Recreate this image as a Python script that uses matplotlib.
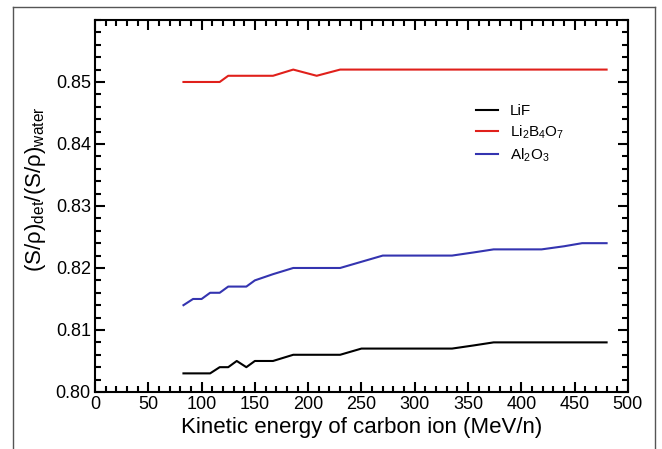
import numpy as np
import matplotlib
matplotlib.use("Agg")
import matplotlib.pyplot as plt
from matplotlib.lines import Line2D
from matplotlib.ticker import MultipleLocator

plt.rcParams.update({
    'font.family': 'Liberation Sans',
    'mathtext.fontset': 'custom',
    'mathtext.rm': 'Liberation Sans',
    'mathtext.it': 'Liberation Sans:italic',
})

# kinetic energy (MeV/n)
energy = [83, 92, 100, 108, 117, 125, 133, 142, 150, 167, 186, 208, 230,
          250, 270, 290, 310, 335, 355, 374, 400, 419, 440, 457, 480]
lif = [0.803, 0.803, 0.803, 0.803, 0.804, 0.804, 0.805, 0.804, 0.805, 0.805,
       0.806, 0.806, 0.806, 0.807, 0.807, 0.807, 0.807, 0.807, 0.8075, 0.808,
       0.808, 0.808, 0.808, 0.808, 0.808]
li2b4o7 = [0.850, 0.850, 0.850, 0.850, 0.850, 0.851, 0.851, 0.851, 0.851, 0.851,
           0.852, 0.851, 0.852, 0.852, 0.852, 0.852, 0.852, 0.852, 0.852, 0.852,
           0.852, 0.852, 0.852, 0.852, 0.852]
al2o3 = [0.814, 0.815, 0.815, 0.816, 0.816, 0.817, 0.817, 0.817, 0.818, 0.819,
         0.820, 0.820, 0.820, 0.821, 0.822, 0.822, 0.822, 0.822, 0.8225, 0.823,
         0.823, 0.823, 0.8235, 0.824, 0.824]

fig = plt.figure(figsize=(6.62, 4.49), dpi=100)
ax = fig.add_axes([0.1435, 0.127, 0.805, 0.8285])

ax.plot(energy, lif, color='black', lw=1.5, label='LiF')
ax.plot(energy, li2b4o7, color='#e0201b', lw=1.5, label=r'Li$_2$B$_4$O$_7$')
ax.plot(energy, al2o3, color='#3434b0', lw=1.5, label=r'Al$_2$O$_3$')

ax.set_xlim(0, 500)
ax.set_ylim(0.80, 0.86)
ax.xaxis.set_major_locator(MultipleLocator(50))
ax.xaxis.set_minor_locator(MultipleLocator(10))
ax.yaxis.set_minor_locator(MultipleLocator(0.002))
ax.set_yticks(np.arange(0.80, 0.855, 0.01))
ax.set_yticklabels(['%.2f' % v for v in np.arange(0.80, 0.855, 0.01)])
ax.tick_params(which='both', direction='in', top=True, right=True, width=1.5,
               labelsize=13, pad=3)
ax.tick_params(which='major', length=7)
ax.tick_params(which='minor', length=4)
for s in ax.spines.values():
    s.set_linewidth(1.5)

ax.set_xlabel('Kinetic energy of carbon ion (MeV/n)', fontsize=16, labelpad=3)
ax.set_ylabel(r'(S/ρ)$_{\rm det}$/(S/ρ)$_{\rm water}$', fontsize=16)
ax.yaxis.set_label_coords(-0.088, 0.545)

ax.legend(loc='upper left', bbox_to_anchor=(0.69, 0.81), frameon=False,
          fontsize=11, handlelength=1.4, handletextpad=0.8, labelspacing=0.35)

# grey frame around the figure
frame = dict(color='#555555', lw=1.0, transform=fig.transFigure)
fig.add_artist(Line2D([13/662, 13/662], [0, 1 - 7/449], **frame))
fig.add_artist(Line2D([13/662, 655/662], [1 - 7/449, 1 - 7/449], **frame))
fig.add_artist(Line2D([655/662, 655/662], [0, 1 - 7/449], **frame))

fig.savefig('out.png', dpi=100)
